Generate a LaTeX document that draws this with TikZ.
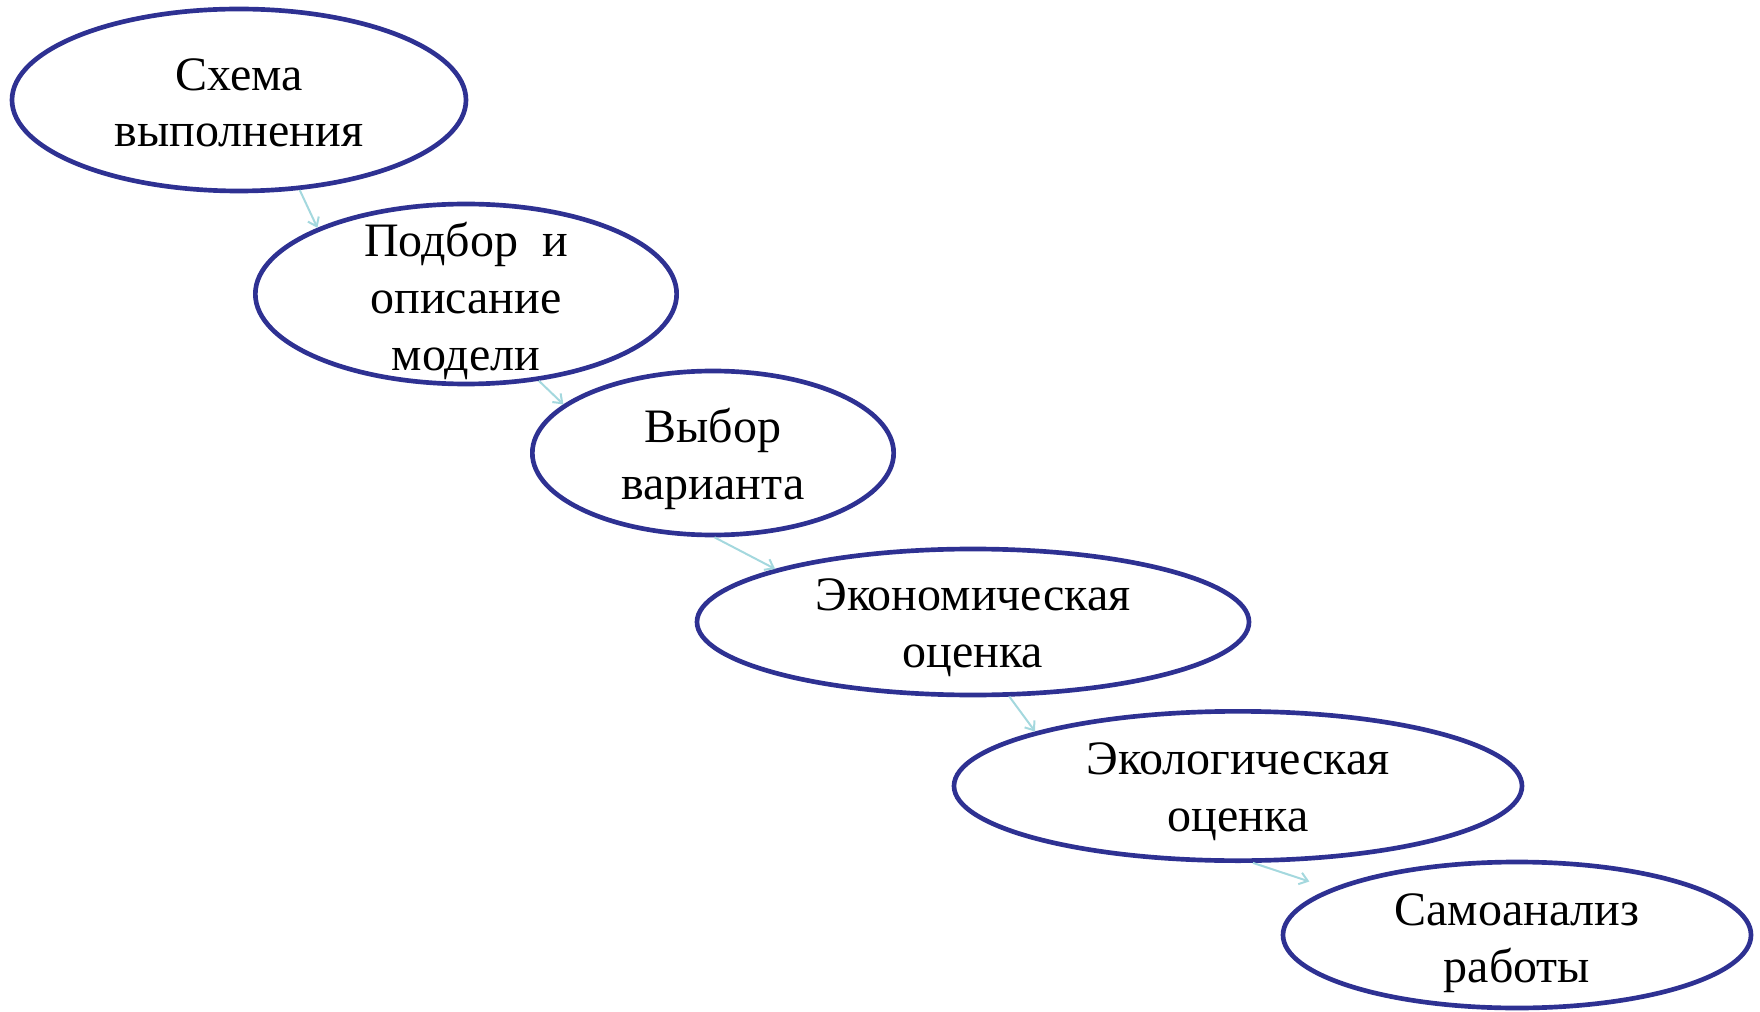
\documentclass[tikz,border=0pt]{standalone}
\usepackage{fontspec}
\setmainfont{Liberation Serif}
\usetikzlibrary{shapes.geometric,arrows.meta}

\definecolor{stageline}{RGB}{46,49,146}
\definecolor{flowline}{RGB}{164,216,222}

\tikzset{
  stage/.style={ellipse, draw=stageline, line width=3.5pt, inner sep=0pt},
  stagetext/.style={align=center, inner sep=0pt, font=\fontsize{36}{42.5}\selectfont},
  flow/.style={draw=flowline, line width=1.5pt, -{Straight Barb[length=6pt,width=9pt]}}
}

\begin{document}
\begin{tikzpicture}[x=0.75pt,y=0.75pt,yscale=-1,xscale=1]
\useasboundingbox (0,0) rectangle (1760,1012);

% Shape: Ellipse
\node [stage, minimum width=340.5pt, minimum height=136.5pt] (e1) at (239,100) {};
% Shape: Ellipse
\node [stage, minimum width=316pt, minimum height=135pt] (e2) at (466,294) {};
% Shape: Ellipse
\node [stage, minimum width=271pt, minimum height=123pt] (e3) at (713,453) {};
% Shape: Ellipse
\node [stage, minimum width=414pt, minimum height=109.5pt] (e4) at (973,622) {};
% Shape: Ellipse
\node [stage, minimum width=426pt, minimum height=112pt] (e5) at (1238,786) {};
% Shape: Ellipse
\node [stage, minimum width=351pt, minimum height=109.5pt] (e6) at (1517,935) {};

% Text Node
\node [stagetext] (t1) at (239,103) {Схема\\выполнения};
% Text Node
\node [stagetext] (t2) at (466,301) {Подбор\ \ и\\описание\\модели};
% Text Node
\node [stagetext] (t3) at (713,459) {Выбор\\варианта};
% Text Node
\node [stagetext] (t4) at (973,628) {Экономическая\\оценка};
% Text Node
\node [stagetext] (t5) at (1238,792) {Экологическая\\оценка};
% Text Node
\node [stagetext] (t6) at (1517,943) {Самоанализ\\работы};

% Arrows
\draw [flow] (e1.-56) -- (e2.156);
\draw [flow] (e2.-50) -- (e3.162);
\draw [flow] (e3.-89) -- (e4.165);
\draw [flow] (e4.-64) -- (e5.165);
\draw [flow, shorten >=17pt] (e5.-79) -- (e6.166);

\end{tikzpicture}
\end{document}
